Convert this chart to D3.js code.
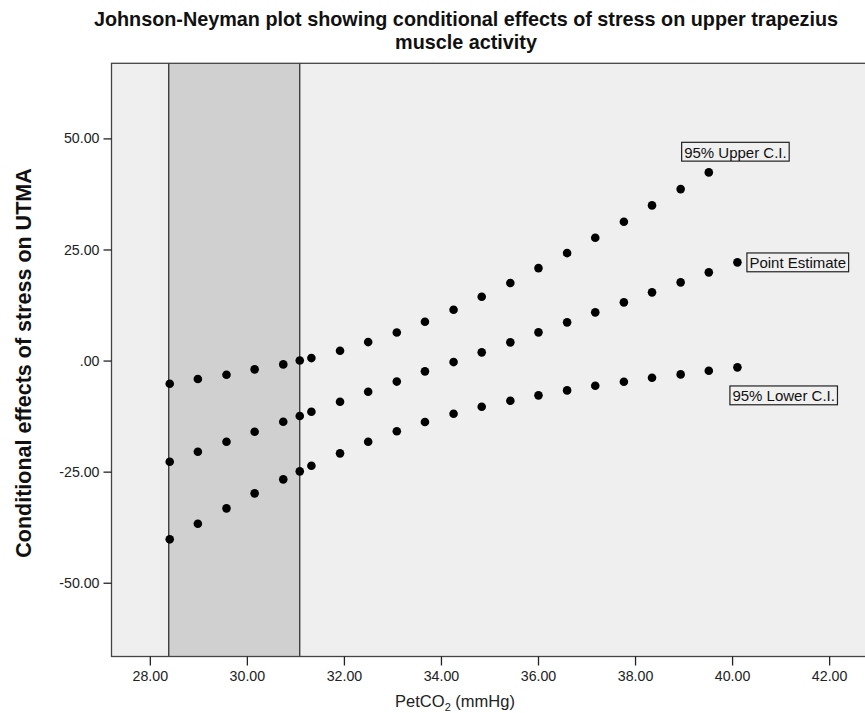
<!DOCTYPE html>
<html>
<head>
<meta charset="utf-8">
<script src="https://cdn.jsdelivr.net/npm/d3@7"></script>
<style>
  html, body { margin: 0; padding: 0; background: #fff; }
  svg { display: block; font-family: "Liberation Sans", Arial, sans-serif; }
</style>
</head>
<body>
<svg id="chart" width="865" height="713"></svg>
<script>
// ---- data ----
const petco2 = [28.41, 28.99, 29.58, 30.16, 30.75, 31.09, 31.33, 31.92, 32.50, 33.09, 33.67,
                34.26, 34.84, 35.43, 36.01, 36.60, 37.18, 37.77, 38.35, 38.94, 39.52, 40.11];
const upperCI = [-5.22, -4.16, -3.20, -1.98, -0.86, 0.00, 0.56, 2.21, 4.16, 6.30, 8.73,
                 11.43, 14.36, 17.44, 20.81, 24.19, 27.63, 31.23, 34.92, 38.59, 42.35, 46.10];
const pointEstimate = [-22.77, -20.52, -18.27, -16.02, -13.77, -12.49, -11.52, -9.27, -7.02, -4.73, -2.43,
                       -0.34, 1.85, 4.10, 6.35, 8.60, 10.85, 13.10, 15.35, 17.60, 19.85, 22.10];
const lowerCI = [-40.23, -36.72, -33.26, -29.88, -26.73, -24.93, -23.67, -20.88, -18.27, -15.91, -13.84,
                 -11.97, -10.40, -9.05, -7.83, -6.71, -5.67, -4.77, -3.87, -3.11, -2.30, -1.53];
const seriesNames = ["95% Upper C.I.", "Point Estimate", "95% Lower C.I."];
const regionStart = 28.39;   // shaded region (significance) lower bound
const regionEnd = 31.09;     // Johnson-Neyman transition point
const xTicks = [28, 30, 32, 34, 36, 38, 40, 42];
const yTicks = [-50, -25, 0, 25, 50];
const yTickLabels = ["-50.00", "-25.00", ".00", "25.00", "50.00"];
const titleLines = ["Johnson-Neyman plot showing conditional effects of stress on upper trapezius",
                    "muscle activity"];
const yTitle = "Conditional effects of stress on UTMA";

// ---- layout ----
const svg = d3.select("#chart");
const L = 111.5, R = 866, T = 63.3, B = 656.5;
const x = d3.scaleLinear().domain([27.21, 42.76]).range([L, R]);
const y = d3.scaleLinear().domain([-66.6, 66.9]).range([B, T]);

// plot background
svg.append("rect").attr("x", L).attr("y", T).attr("width", R - L).attr("height", B - T)
  .attr("fill", "#efefef");

// shaded region
svg.append("rect").attr("x", x(regionStart)).attr("y", T)
  .attr("width", x(regionEnd) - x(regionStart)).attr("height", B - T)
  .attr("fill", "#d0d0d0");
[regionStart, regionEnd].forEach(v => {
  svg.append("line").attr("x1", x(v)).attr("x2", x(v)).attr("y1", T).attr("y2", B)
    .attr("stroke", "#222").attr("stroke-width", 1.2);
});

// frame
svg.append("rect").attr("x", L).attr("y", T).attr("width", R - L).attr("height", B - T)
  .attr("fill", "none").attr("stroke", "#444").attr("stroke-width", 1.3);

// axes
const xAxis = d3.axisBottom(x).tickValues(xTicks).tickFormat(d3.format(".2f"))
  .tickSize(9).tickPadding(5);
const gx = svg.append("g").attr("transform", `translate(0,${B})`).call(xAxis);
gx.select(".domain").remove();
gx.selectAll(".tick line").attr("stroke", "#222").attr("stroke-width", 1.3);
gx.selectAll(".tick text").attr("font-size", 14.2).attr("fill", "#222")
  .attr("font-family", "Liberation Sans, Arial, sans-serif");

const yAxis = d3.axisLeft(y).tickValues(yTicks)
  .tickFormat(d => yTickLabels[yTicks.indexOf(d)]).tickSize(8).tickPadding(4);
const gy = svg.append("g").attr("transform", `translate(${L},0)`).call(yAxis);
gy.select(".domain").remove();
gy.selectAll(".tick line").attr("stroke", "#222").attr("stroke-width", 1.3);
gy.selectAll(".tick text").attr("font-size", 14.2).attr("fill", "#222")
  .attr("font-family", "Liberation Sans, Arial, sans-serif");

// points
const series = [upperCI, pointEstimate, lowerCI];
series.forEach(vals => {
  svg.append("g").selectAll("circle").data(petco2).join("circle")
    .attr("cx", d => x(d)).attr("cy", (d, i) => y(vals[i]))
    .attr("r", 4.3).attr("fill", "#000");
});

// series labels (boxed), positioned relative to last point of each series
const n = petco2.length - 1;
const labelOffsets = [
  { dx: -2, dy: -4, anchor: "middle" },
  { dx: 12, dy: 0, anchor: "start" },
  { dx: -5, dy: 28, anchor: "start" }
];
series.forEach((vals, k) => {
  const px = x(petco2[n]) + labelOffsets[k].dx;
  const py = y(vals[n]) + labelOffsets[k].dy;
  const g = svg.append("g");
  const rect = g.append("rect");
  const t = g.append("text").attr("x", px).attr("y", py + 0.5)
    .attr("text-anchor", labelOffsets[k].anchor).attr("dominant-baseline", "central")
    .attr("font-size", 15).attr("fill", "#111").text(seriesNames[k]);
  const bb = t.node().getBBox();
  rect.attr("x", bb.x - 2.5).attr("y", py - 9.4).attr("width", bb.width + 5).attr("height", 18.8)
    .attr("fill", "#f0f0f0").attr("stroke", "#222").attr("stroke-width", 1.2);
});

// title (two lines)
svg.append("text").attr("x", 466).attr("y", 26).attr("text-anchor", "middle")
  .attr("font-size", 19.8).attr("font-weight", "bold").attr("fill", "#111").text(titleLines[0]);
svg.append("text").attr("x", 466).attr("y", 48.5).attr("text-anchor", "middle")
  .attr("font-size", 19.8).attr("font-weight", "bold").attr("fill", "#111").text(titleLines[1]);

svg.append("text").attr("transform", "translate(31,363) rotate(-90)").attr("text-anchor", "middle")
  .attr("font-size", 21.5).attr("font-weight", "bold").attr("fill", "#111").text(yTitle);

const xt = svg.append("text").attr("x", 455).attr("y", 707).attr("text-anchor", "middle")
  .attr("font-size", 16.5).attr("fill", "#222");
xt.append("tspan").text("PetCO");
xt.append("tspan").attr("font-size", 11).attr("dy", 4).text("2");
xt.append("tspan").attr("dy", -4).text(" (mmHg)");
</script>
</body>
</html>
